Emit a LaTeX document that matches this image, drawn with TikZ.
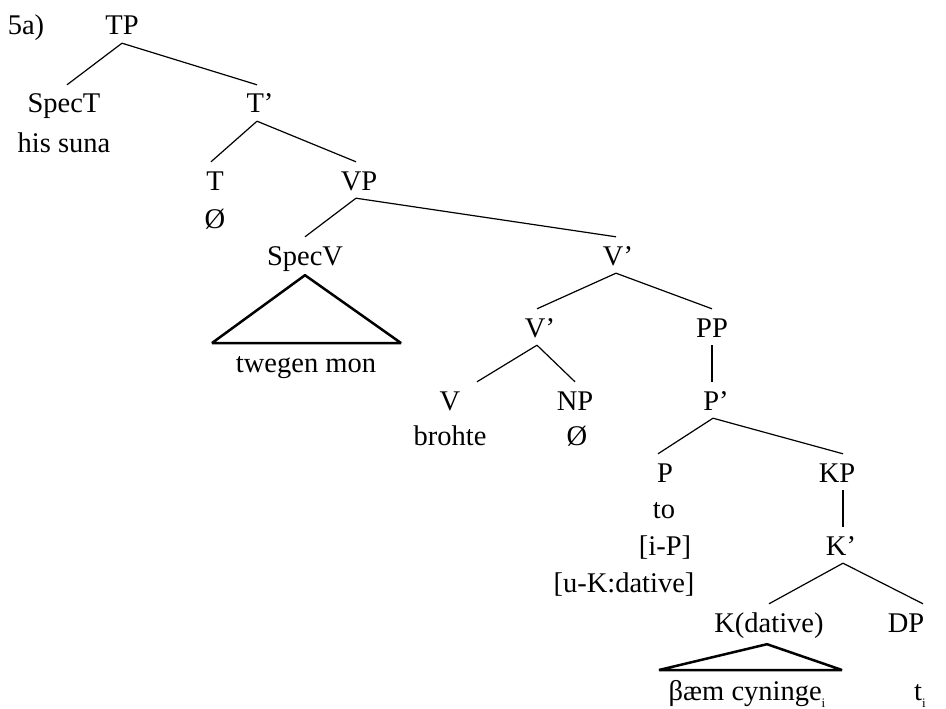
\documentclass[tikz,border=0pt]{standalone}
\usepackage{fontspec}
\setmainfont{Liberation Serif}
\newcommand{\lowi}{\raisebox{-0.25em}{\fontsize{13}{13}\selectfont i}}
\begin{document}
\begin{tikzpicture}[x=1pt,y=-1pt,
  lab/.style={anchor=base, inner xsep=0pt, inner ysep=8pt, font=\fontsize{28.5}{34}\selectfont, text height=20pt, text depth=0pt},
  txt/.style={anchor=base, inner sep=0pt, font=\fontsize{28.5}{34}\selectfont},
  br/.style={line width=1.2pt},
  tri/.style={line width=2.5pt, line join=bevel}]
\useasboundingbox (0,0) rectangle (946,709);
% labels
\node[txt] (lbl) at (26,35) {5a)};
\node[lab] (TP) at (122,35) {TP};
\node[lab] (SpecT) at (64,113) {SpecT};
\node[txt] (hissuna) at (64,152) {his suna};
\node[lab] (Tbar) at (260,113) {T’};
\node[lab] (T) at (215,190) {T};
\node[txt] (Tnull) at (215,228) {Ø};
\node[lab] (VP) at (359,190) {VP};
\node[lab] (SpecV) at (305,265) {SpecV};
\node[txt] (twegen) at (306,372) {twegen mon};
\node[lab] (Vbar) at (618,265) {V’};
\node[lab] (Vbar2) at (540,337) {V’};
\node[lab] (PP) at (712,337) {PP};
\node[lab] (V) at (450,410) {V};
\node[txt] (brohte) at (450,445) {brohte};
\node[lab] (NP) at (575,410) {NP};
\node[txt] (NPnull) at (577,445) {Ø};
\node[lab] (Pbar) at (716,410) {P’};
\node[lab] (P) at (665,482) {P};
\node[txt] (to) at (664,518) {to};
\node[txt] (iP) at (665,555) {[i-P]};
\node[txt] (uK) at (624,592) {[u-K:dative]};
\node[lab] (KP) at (837,482) {KP};
\node[lab] (Kbar) at (841,555) {K’};
\node[lab] (K) at (769,632) {K(dative)};
\node[lab] (DP) at (906,632) {DP};
\node[txt] (baem) at (747,700) {βæm cyninge\lowi};
\node[txt] (ti) at (920,700) {t\lowi};
% triangle corners
\coordinate (tvL) at (212,343);
\coordinate (tvR) at (401,343);
\coordinate (tkL) at (659,670);
\coordinate (tkR) at (842,670);
% branches
\draw[br] (TP.south) -- ([xshift=3pt]SpecT.north);
\draw[br] (TP.south) -- ([xshift=-3pt]Tbar.north);
\draw[br] ([xshift=-3pt]Tbar.south) -- ([xshift=-4pt]T.north);
\draw[br] ([xshift=-3pt]Tbar.south) -- ([xshift=-3pt]VP.north);
\draw[br] ([xshift=-3pt]VP.south) -- (SpecV.north);
\draw[br] ([xshift=-3pt]VP.south) -- ([xshift=-2pt]Vbar.north);
\draw[br] ([xshift=-2pt]Vbar.south) -- ([xshift=-3pt]Vbar2.north);
\draw[br] ([xshift=-2pt]Vbar.south) -- (PP.north);
\draw[br] ([xshift=-3pt]Vbar2.south) -- ([xshift=27pt]V.north);
\draw[br] ([xshift=-3pt]Vbar2.south) -- (NP.north);
\draw[br] (PP.south) -- (PP.south |- Pbar.north);
\draw[br] ([xshift=-3pt]Pbar.south) -- ([xshift=-7pt]P.north);
\draw[br] ([xshift=-3pt]Pbar.south) -- ([xshift=6pt]KP.north);
\draw[br] ([xshift=6pt]KP.south) -- ([xshift=6pt]KP.south |- Kbar.north);
\draw[br] ([xshift=2pt]Kbar.south) -- (K.north);
\draw[br] ([xshift=2pt]Kbar.south) -- ([xshift=17pt]DP.north);
% triangles
\draw[tri] (tvL) -- ([yshift=-2pt]SpecV.south) -- (tvR) -- cycle;
\draw[tri] (tkL) -- ([xshift=-2pt,yshift=-4pt]K.south) -- (tkR) -- cycle;
\end{tikzpicture}
\end{document}
